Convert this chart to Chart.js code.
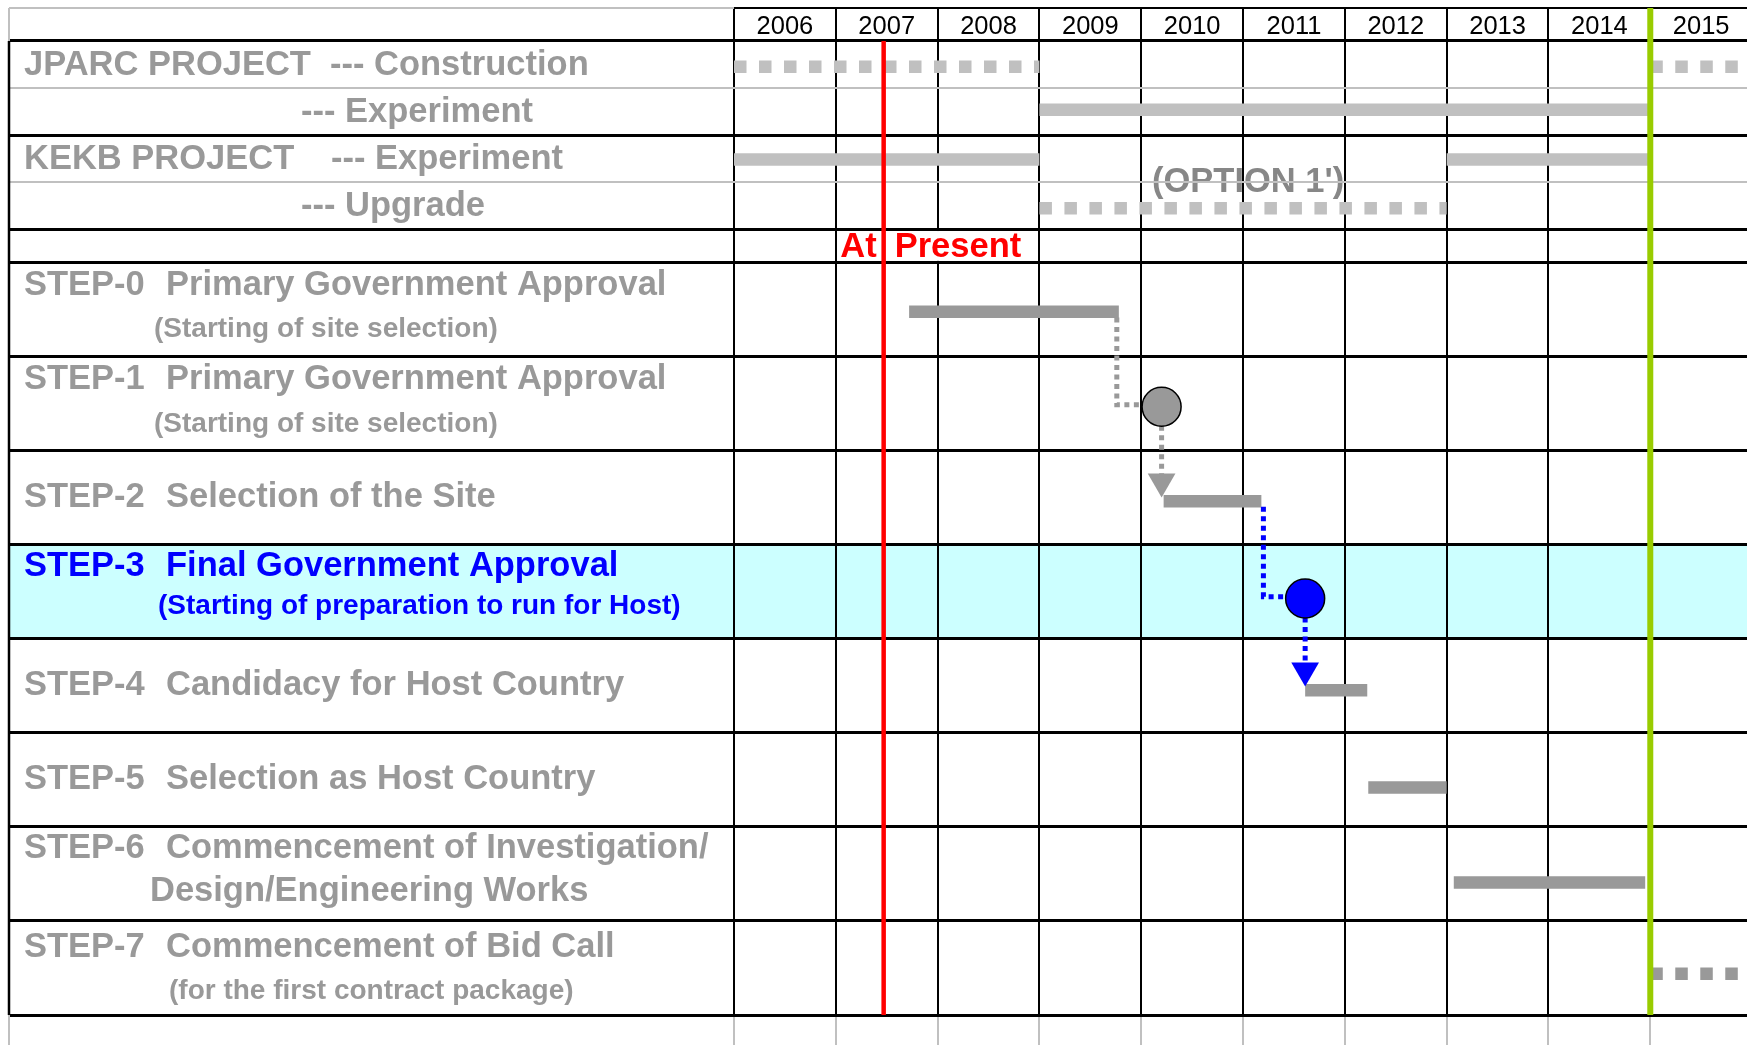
<!DOCTYPE html>
<html>
<head>
<meta charset="utf-8">
<title>Roadmap</title>
<script src="https://cdn.jsdelivr.net/npm/chart.js@4.4.1/dist/chart.umd.min.js"></script>
<style>
  html, body { margin: 0; padding: 0; background: #fff; }
  #wrap { width: 1747px; height: 1045px; }
</style>
</head>
<body>
<div id="wrap"><canvas id="chart-roadmap" width="1747" height="1045"></canvas></div>
<script>
// ---- schedule data (years) ----
var years = [2006, 2007, 2008, 2009, 2010, 2011, 2012, 2013, 2014, 2015];
var presentYear = 2007.47;   // red "At Present" line
var targetYear = 2015.0;     // green line

// project rows, [start, end] spans
var jparcConstruction = [[2006, 2009], [2015, 2016]];
var jparcExperiment   = [[2009, 2015]];
var kekbExperiment    = [[2006, 2009], [2013, 2015]];
var kekbUpgrade       = [[2009, 2013]];

var stepTitles = ['Primary Government Approval', 'Primary Government Approval', 'Selection of the Site',
  'Final Government Approval', 'Candidacy for Host Country', 'Selection as Host Country',
  'Commencement of Investigation/', 'Commencement of Bid Call'];
var stepNotes = ['(Starting of site selection)', '(Starting of site selection)', '',
  '(Starting of preparation to run for Host)', '', '', 'Design/Engineering Works', '(for the first contract package)'];
var stepStart = [2007.72, null, 2010.22, null, 2011.61, 2012.23, 2013.07, 2015.0];
var stepEnd   = [2009.78, null, 2011.18, null, 2012.22, 2013.00, 2014.95, 2016.0];
var stepTentative = [false, false, false, false, false, false, false, true];

// approval milestones (circles) : which step row, and when
var milestoneStep = [1, 3];
var milestoneYear = [2010.20, 2011.61];

// ---- layout ----
var GRAY = '#999999', LIGHT = '#c0c0c0', BLUE = '#0000ff';
var FONT = '"Liberation Sans", Arial, sans-serif';
var LEFT = 9, TOP = 8;
// header, 4 project half-rows, "At Present" row, 8 step rows
var ROW_SPAN = [0.351, 0.5, 0.5, 0.5, 0.5, 0.36, 1, 1, 1, 1, 1, 1, 1, 1];
var PROJECT_ROW0 = 1, PRESENT_ROW = 5, STEP_ROW0 = 6, HILITE_STEP = 3;
// small vertical shifts of the marks inside their rows (row units)
var PROJECT_NUDGE = [0.025, -0.02, 0.01, 0.03];
var STEP_NUDGE = [0.02, 0.03, 0.035, 0.07, 0.045, 0.08, 0.09, 0.06];
var rowEdges = [0];
ROW_SPAN.forEach(function (h, i) { rowEdges.push(rowEdges[i] + h); });
var yEnd = rowEdges[rowEdges.length - 1];
var UNIT_PX = (1015 - TOP) / yEnd;
var thinEdges = [2, 4];
function rowMid(i) { return (rowEdges[i] + rowEdges[i + 1]) / 2; }
function stepY(k) { return rowMid(STEP_ROW0 + k) + STEP_NUDGE[k]; }

var projectLabels = [
  [['JPARC PROJECT', 24], ['--- Construction', 330]],
  [['--- Experiment', 301]],
  [['KEKB PROJECT', 24], ['--- Experiment', 331]],
  [['--- Upgrade', 301]]
];
var titleDy = [23, 23, 0, 22, 0, 0, 22, 26];
var noteDy = [66, 67, 0, 61, 0, 0, 65, 70];
var noteX = [154, 154, 0, 158, 0, 0, 150, 169];
var noteSize = [28, 28, 0, 28, 0, 0, 34.5, 28];

// ---- datasets ----
var datasets = [];
function bar(x0, x1, y, color, dashed) {
  datasets.push({
    data: [{x: x0, y: y}, {x: x1, y: y}],
    borderColor: color, borderWidth: 12.5, borderCapStyle: 'butt',
    borderDash: dashed ? [12.5, 12.5] : [], pointRadius: 0, order: 4
  });
}
[jparcConstruction, jparcExperiment, kekbExperiment, kekbUpgrade].forEach(function (spans, i) {
  spans.forEach(function (s) {
    bar(s[0], s[1], rowMid(PROJECT_ROW0 + i) + PROJECT_NUDGE[i], LIGHT, i === 0 || i === 3);
  });
});
stepStart.forEach(function (s, k) {
  if (s !== null) bar(s, stepEnd[k], stepY(k), GRAY, stepTentative[k]);
});

milestoneStep.forEach(function (m, j) {
  var color = j === 0 ? GRAY : BLUE;
  var mx = milestoneYear[j], my = stepY(m);
  var prevEnd = stepEnd[m - 1] + (j === 0 ? -0.02 : 0.02);
  var tipY = stepY(m + 1) - 0.04;
  var headY = tipY - 16 / UNIT_PX;
  // dotted link from previous bar to the circle
  datasets.push({
    data: [{x: prevEnd, y: stepY(m - 1) + 0.06}, {x: prevEnd, y: my - 0.02}, {x: mx, y: my - 0.02}],
    borderColor: color, borderWidth: 5, borderDash: [5, 4.5], pointRadius: 0, order: 3
  });
  // dotted arrow shaft down to next step
  datasets.push({
    data: [{x: mx, y: my}, {x: mx, y: headY}],
    borderColor: color, borderWidth: 5, borderDash: [5, 4.5], pointRadius: 0, order: 3
  });
  // arrow head
  datasets.push({
    data: [{x: mx, y: headY}], showLine: false,
    pointStyle: 'triangle', rotation: 180, pointRadius: 16,
    pointBackgroundColor: color, pointBorderColor: color, pointBorderWidth: 0, order: 2
  });
  // milestone circle
  datasets.push({
    data: [{x: mx, y: my}], showLine: false,
    pointRadius: 19.5, pointBackgroundColor: color, pointBorderColor: '#000', pointBorderWidth: 1.5, order: 1
  });
});

datasets.push({
  data: [{x: presentYear, y: rowEdges[1]}, {x: presentYear, y: yEnd}],
  borderColor: '#ff0000', borderWidth: 4.5, pointRadius: 0, order: 0
});
datasets.push({
  data: [{x: targetYear, y: 0}, {x: targetYear, y: yEnd}],
  borderColor: '#99cc00', borderWidth: 6, pointRadius: 0, order: 0
});

// ---- drawing helpers ----
function text(c, str, x, y, size, color, align) {
  c.font = 'bold ' + size + 'px ' + FONT;
  c.fillStyle = color;
  c.textAlign = align || 'left';
  c.textBaseline = 'middle';
  c.fillText(str, x, y);
}
function line(c, x0, y0, x1, y1, color, w) {
  c.beginPath();
  c.strokeStyle = color; c.lineWidth = w;
  c.moveTo(x0, y0); c.lineTo(x1, y1);
  c.stroke();
}

var tablePlugin = {
  id: 'table',
  beforeDraw: function (chart) {
    var c = chart.ctx, a = chart.chartArea, y = chart.scales.y, x = chart.scales.x;
    var row = STEP_ROW0 + HILITE_STEP;
    var t = y.getPixelForValue(rowEdges[row]), b = y.getPixelForValue(rowEdges[row + 1]);
    c.save();
    c.fillStyle = '#ccffff';
    c.fillRect(LEFT, t, a.right - LEFT, b - t);
    text(c, "(OPTION 1')", x.getPixelForValue(2011.05), y.getPixelForValue(rowEdges[4]), 34.5, '#878787', 'center');
    c.restore();
  },
  beforeDatasetsDraw: function (chart) {
    var c = chart.ctx, y = chart.scales.y, x = chart.scales.x;
    var px = x.getPixelForValue(presentYear);
    var t = y.getPixelForValue(rowEdges[PRESENT_ROW]), b = y.getPixelForValue(rowEdges[PRESENT_ROW + 1]);
    c.save();
    c.fillStyle = '#fff';
    c.fillRect(px - 44, t + 2, 184, b - t - 4);
    text(c, 'At', px - 7, (t + b) / 2 + 2, 34.5, '#ff0000', 'right');
    text(c, 'Present', px + 11, (t + b) / 2 + 2, 34.5, '#ff0000', 'left');
    c.restore();
  },
  afterDraw: function (chart) {
    var c = chart.ctx, a = chart.chartArea, y = chart.scales.y;
    var hb = y.getPixelForValue(rowEdges[1]);
    c.save();
    // outer left edge
    line(c, LEFT, a.top, LEFT, hb, LIGHT, 2);
    line(c, LEFT, hb, LEFT, a.bottom, '#000', 2.5);
    line(c, LEFT, a.bottom, LEFT, chart.height, LIGHT, 2);
    // row labels
    projectLabels.forEach(function (parts, i) {
      var py = y.getPixelForValue(rowMid(PROJECT_ROW0 + i)) + 1;
      parts.forEach(function (p) { text(c, p[0], p[1], py, 34.5, GRAY); });
    });
    stepTitles.forEach(function (title, k) {
      var row = STEP_ROW0 + k, color = k === HILITE_STEP ? BLUE : GRAY;
      var top = y.getPixelForValue(rowEdges[row]);
      var two = stepNotes[k] !== '';
      var y1 = two ? top + titleDy[k] : y.getPixelForValue(rowMid(row));
      text(c, 'STEP-' + k, 24, y1, 34.5, color);
      text(c, title, 166, y1, 34.5, color);
      if (two) text(c, stepNotes[k], noteX[k], top + noteDy[k], noteSize[k], color);
    });
    c.restore();
  }
};

Chart.defaults.font.family = FONT;

var chart = new Chart(document.getElementById('chart-roadmap').getContext('2d'), {
  type: 'line',
  data: { datasets: datasets },
  plugins: [tablePlugin],
  options: {
    responsive: false,
    animation: false,
    devicePixelRatio: 1,
    events: [],
    layout: { autoPadding: false, padding: { left: LEFT, top: TOP, right: 0, bottom: 0 } },
    plugins: { legend: { display: false }, tooltip: { enabled: false } },
    scales: {
      x: {
        type: 'linear', position: 'bottom', min: years[0], max: 2015.95,
        afterBuildTicks: function (s) { s.ticks = years.map(function (v) { return {value: v}; }); },
        ticks: { display: false },
        border: { display: false },
        grid: { color: '#000', lineWidth: 2, drawTicks: true, tickLength: 30, tickColor: LIGHT, tickWidth: 2 }
      },
      xTop: {
        type: 'linear', position: 'top', min: years[0], max: 2015.95,
        afterBuildTicks: function (s) { s.ticks = years.map(function (v) { return {value: v + 0.5}; }); },
        afterFit: function (s) { s.height = 0; },
        ticks: {
          mirror: true, padding: 3.5, autoSkip: false, maxRotation: 0, color: '#000',
          font: { size: 25.5, family: FONT },
          callback: function (v) { return String(Math.floor(v)); }
        },
        border: { display: false },
        grid: { display: false, drawTicks: false }
      },
      y: {
        type: 'linear', position: 'left', reverse: true, min: 0, max: yEnd,
        afterBuildTicks: function (s) { s.ticks = rowEdges.map(function (v) { return {value: v}; }); },
        ticks: { display: false },
        border: { display: false },
        grid: {
          drawTicks: true, tickLength: 725,
          color: function (ctx) { return thinEdges.indexOf(ctx.index) >= 0 ? LIGHT : '#000'; },
          lineWidth: function (ctx) { return thinEdges.indexOf(ctx.index) >= 0 ? 2 : (ctx.index === 0 ? 2 : 3); },
          tickColor: function (ctx) { return (ctx.index === 0 || thinEdges.indexOf(ctx.index) >= 0) ? LIGHT : '#000'; },
          tickWidth: function (ctx) { return (ctx.index === 0 || thinEdges.indexOf(ctx.index) >= 0) ? 2 : 3; }
        }
      }
    }
  }
});
</script>
</body>
</html>
